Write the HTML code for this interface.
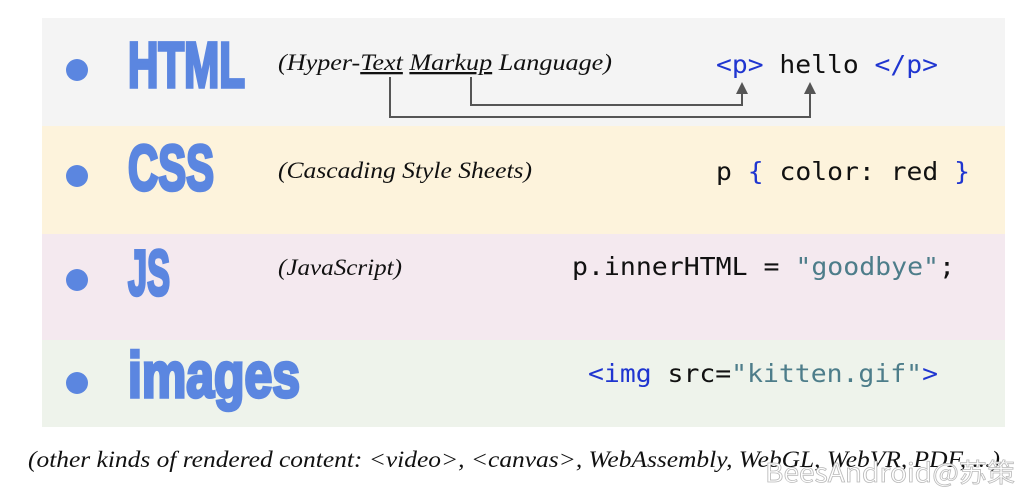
<!DOCTYPE html>
<html><head><meta charset="utf-8"><style>
html,body{margin:0;padding:0;background:#fff;width:1024px;height:493px;overflow:hidden}
svg{display:block}
.h{font-family:"Liberation Sans Narrow","Liberation Sans",sans-serif;font-weight:bold;fill:#5b86e0;stroke:#5b86e0;stroke-width:3.5;stroke-linejoin:miter}
.it{font-family:"Liberation Serif",serif;font-style:italic;font-size:23px;fill:#111}
.c{font-family:"DejaVu Sans Mono","Liberation Mono",monospace;font-size:25px;fill:#111}
.b{fill:#1f35d0}.s{fill:#4d7d8a}
</style></head><body>
<svg width="1024" height="493" viewBox="0 0 1024 493" xmlns="http://www.w3.org/2000/svg">
<rect x="42" y="18" width="963" height="108" fill="#f4f4f4"/>
<rect x="42" y="126" width="963" height="108" fill="#fdf3dc"/>
<rect x="42" y="234" width="963" height="106" fill="#f4e9ef"/>
<rect x="42" y="340" width="963" height="87" fill="#eef3eb"/>
<g fill="#5b86e0">
<circle cx="77" cy="70" r="11"/><circle cx="77" cy="176" r="11"/><circle cx="77" cy="280" r="11"/><circle cx="77" cy="383" r="11"/>
</g>
<text class="h" x="128" y="87" font-size="64" textLength="117" lengthAdjust="spacingAndGlyphs">HTML</text>
<text class="h" x="128" y="190" font-size="64" textLength="86" lengthAdjust="spacingAndGlyphs">CSS</text>
<text class="h" x="128" y="295" font-size="64" textLength="42" lengthAdjust="spacingAndGlyphs">JS</text>
<text class="h" x="128" y="397" font-size="64" textLength="172" lengthAdjust="spacingAndGlyphs">images</text>
<text class="it" x="278" y="70" textLength="334" lengthAdjust="spacingAndGlyphs">(Hyper-<tspan text-decoration="underline">Text</tspan> <tspan text-decoration="underline">Markup</tspan> Language)</text>
<text class="it" x="278" y="178" textLength="254" lengthAdjust="spacingAndGlyphs">(Cascading Style Sheets)</text>
<text class="it" x="278" y="275" textLength="124" lengthAdjust="spacingAndGlyphs">(JavaScript)</text>
<g fill="none" stroke="#555" stroke-width="2">
<polyline points="390,77 390,117 810,117 810,92"/>
<polyline points="471,77 471,105 742,105 742,92"/>
</g>
<g fill="#555"><polygon points="742,82 736,94 748,94"/><polygon points="810,82 804,94 816,94"/></g>
<text class="c" x="716" y="73" textLength="222" lengthAdjust="spacingAndGlyphs"><tspan class="b">&lt;p&gt;</tspan> hello <tspan class="b">&lt;/p&gt;</tspan></text>
<text class="c" x="716" y="180" textLength="254" lengthAdjust="spacingAndGlyphs">p <tspan class="b">{</tspan> color: red <tspan class="b">}</tspan></text>
<text class="c" x="572" y="275" textLength="383" lengthAdjust="spacingAndGlyphs">p.innerHTML = <tspan class="s">"goodbye"</tspan>;</text>
<text class="c" x="588" y="382" textLength="350" lengthAdjust="spacingAndGlyphs"><tspan class="b">&lt;img</tspan> src=<tspan class="s">"kitten.gif"</tspan><tspan class="b">&gt;</tspan></text>
<text class="it" x="28" y="467" textLength="972" lengthAdjust="spacingAndGlyphs">(other kinds of rendered content: &lt;video&gt;, &lt;canvas&gt;, WebAssembly, WebGL, WebVR, PDF, ...)</text>
<text x="765" y="482" font-family="Liberation Sans Narrow,'Noto Sans CJK SC',sans-serif" font-size="26" fill="#fff" stroke="#bbb" stroke-width="0.8" textLength="250" lengthAdjust="spacingAndGlyphs">BeesAndroid@苏策</text>
</svg>
</body></html>
